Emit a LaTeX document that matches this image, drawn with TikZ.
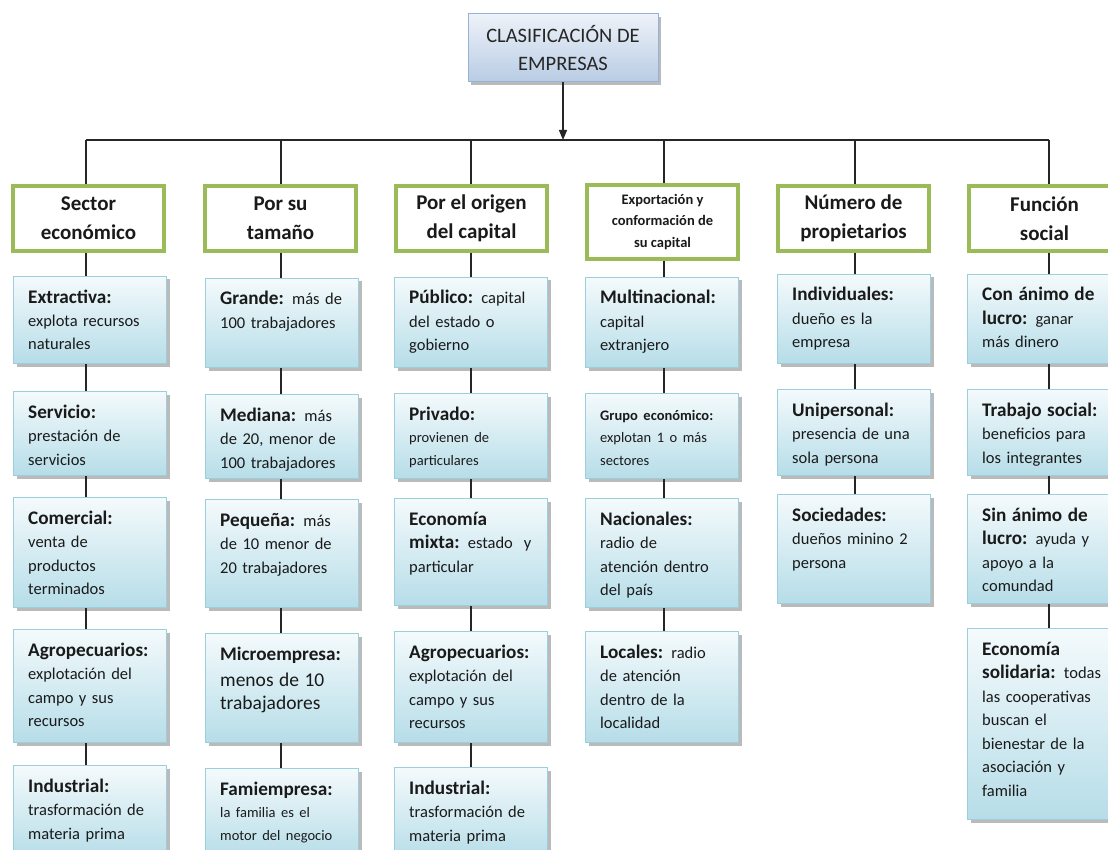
\documentclass[tikz,border=0pt]{standalone}
\usepackage{fontspec}
\setmainfont{Carlito}
\usetikzlibrary{shadows,arrows.meta}
\definecolor{hgreen}{HTML}{9BBB59}
\definecolor{bborder}{HTML}{9CCFDD}
\definecolor{bbot}{HTML}{B6DDE8}
\definecolor{btop}{HTML}{F4FAFC}
\definecolor{tborder}{HTML}{95B3D7}
\definecolor{ttop}{HTML}{EEF2F9}
\definecolor{tbot}{HTML}{B8CCE4}
\definecolor{txt}{HTML}{1A1A1A}
\newcommand{\lb}[1]{{\fontsize{19.2}{23.5}\selectfont\bfseries #1}}
\newcommand{\smtxt}{\fontsize{14.5}{22}\selectfont}
\newcommand{\cb}[5]{%
  \node[cbox, minimum height=#4pt, anchor=north west] (#1) at (#2pt,-#3pt) {};
  \node[ctext, anchor=base west] (#1t) at ([xshift=15pt,yshift=-27pt]#1.north west) {#5};}
\tikzset{
  cbox/.style={draw=bborder, line width=1pt, top color=btop, bottom color=bbot,
    minimum width=153pt, inner sep=0pt,
    drop shadow={shadow xshift=3pt, shadow yshift=-3pt, fill=black!60, opacity=.45}},
  ctext/.style={align=left, text width=150pt, inner sep=0pt, text=txt,
    font=\fontsize{16.5}{23.5}\selectfont},
  hbox/.style={draw=hgreen, line width=4pt, fill=white, minimum width=151pt,
    minimum height=65pt, align=center, inner sep=0pt, text=txt,
    font=\fontsize{21}{29}\selectfont\bfseries,
    drop shadow={shadow xshift=2pt, shadow yshift=-2pt, fill=black!30, opacity=.35}},
  tbox/.style={draw=tborder, line width=1pt, top color=ttop, bottom color=tbot,
    minimum width=190pt, minimum height=68pt, align=center, inner sep=0pt,
    text=black!85, font=\fontsize{20.5}{28}\selectfont,
    drop shadow={shadow xshift=3pt, shadow yshift=-3pt, fill=black!60, opacity=.45}},
  link/.style={draw=black!85, line width=1.3pt},
}
\begin{document}
\begin{tikzpicture}
\useasboundingbox (0pt,0pt) rectangle (1108pt,-850pt);
\clip (0pt,0pt) rectangle (1108pt,-850pt);
\fill[white] (0pt,0pt) rectangle (1108pt,-850pt);

% title
\node[tbox] (title) at (563pt,-48pt) {CLASIFICACIÓN DE\\EMPRESAS};

% column coordinates on the horizontal bar
\coordinate (c1) at (86pt,-140pt);
\coordinate (c2) at (281pt,-140pt);
\coordinate (c3) at (471pt,-140pt);
\coordinate (c4) at (664pt,-140pt);
\coordinate (c5) at (855pt,-140pt);
\coordinate (c6) at (1049pt,-140pt);

% headers
\node[hbox] (h1) at (88.5pt,-218.5pt) {Sector\\económico};
\node[hbox] (h2) at (280.5pt,-218.5pt) {Por su\\tamaño};
\node[hbox] (h3) at (471.5pt,-218.5pt) {Por el origen\\del capital};
\node[hbox, minimum height=74pt, font=\fontsize{14.5}{21.5}\selectfont\bfseries] (h4) at (662.5pt,-222pt) {Exportación y\\conformación de\\su capital};
\node[hbox] (h5) at (853.5pt,-218.5pt) {Número de\\propietarios};
\node[hbox] (h6) at (1044.5pt,-218.5pt) {Función\\social};

% column 1
\cb{a1}{13}{276}{87}{\lb{Extractiva:}\\explota recursos\\naturales}
\cb{a2}{13}{391}{84}{\lb{Servicio:}\\prestación de\\servicios}
\cb{a3}{13}{497}{110}{\lb{Comercial:}\\venta de\\productos\\terminados}
\cb{a4}{13}{629}{113}{\lb{Agropecuarios:}\\explotación del\\campo y sus\\recursos}
\cb{a5}{13}{765}{92}{\lb{Industrial:}\\trasformación de\\materia prima}

% column 2
\cb{b1}{205}{278}{89}{\lb{Grande:} más de\\100 trabajadores}
\cb{b2}{205}{394}{84}{\lb{Mediana:} más\\de 20, menor de\\100 trabajadores}
\cb{b3}{205}{499}{108}{\lb{Pequeña:} más\\de 10 menor de\\20 trabajadores}
\cb{b4}{205}{633}{109}{\lb{Microempresa:}\\{\fontsize{19.5}{26}\selectfont menos de 10\\trabajadores}}
\cb{b5}{205}{768}{90}{\lb{Famiempresa:}\\{\smtxt la familia es el\\motor del negocio}}

% column 3
\cb{d1}{394}{277}{90}{\lb{Público:} capital\\del estado o\\gobierno}
\cb{d2}{394}{393}{85}{\lb{Privado:}\\{\smtxt provienen de\\particulares}}
\cb{d3}{394}{498}{107}{\lb{Economía}\\\lb{mixta:} estado~ y\\particular}
\cb{d4}{394}{631}{111}{\lb{Agropecuarios:}\\explotación del\\campo y sus\\recursos}
\cb{d5}{394}{767}{92}{\lb{Industrial:}\\trasformación de\\materia prima}

% column 4
\cb{e1}{585}{277}{90}{\lb{Multinacional:}\\capital\\extranjero}
\cb{e2}{585}{393}{85}{{\smtxt\bfseries Grupo económico:}\\{\smtxt explotan 1 o más\\sectores}}
\cb{e3}{585}{498}{109}{\lb{Nacionales:}\\radio de\\atención dentro\\del país}
\cb{e4}{585}{631}{111}{\lb{Locales:} radio\\de atención\\dentro de la\\localidad}

% column 5
\cb{f1}{777}{274}{89}{\lb{Individuales:}\\dueño es la\\empresa}
\cb{f2}{777}{389}{86}{\lb{Unipersonal:}\\presencia de una\\sola persona}
\cb{f3}{777}{494}{109}{\lb{Sociedades:}\\dueños minino 2\\persona}

% column 6
\cb{g1}{967}{274}{89}{\lb{Con ánimo de}\\\lb{lucro:} ganar\\más dinero}
\cb{g2}{967}{389}{86}{\lb{Trabajo social:}\\beneficios para\\los integrantes}
\cb{g3}{967}{494}{109}{\lb{Sin ánimo de}\\\lb{lucro:} ayuda y\\apoyo a la\\comundad}
\cb{g4}{967}{628}{191}{\lb{Economía}\\\lb{solidaria:} todas\\las cooperativas\\buscan el\\bienestar de la\\asociación y\\familia}

% connectors
\draw[link] (c1) -- (c6);
\draw[link, -{Triangle[length=10pt,width=8pt]}] (title.south) -- (title.south |- c1);
\foreach \i/\h in {1/h1,2/h2,3/h3,4/h4,5/h5,6/h6}
  \draw[link] (c\i) -- (\h.north -| c\i);
\draw[link] (h1.south -| c1) -- (a1.north -| c1);
\draw[link] (h2.south -| c2) -- (b1.north -| c2);
\draw[link] (h3.south -| c3) -- (d1.north -| c3);
\draw[link] (h4.south -| c4) -- (e1.north -| c4);
\draw[link] (h5.south -| c5) -- (f1.north -| c5);
\draw[link] (h6.south -| c6) -- (g1.north -| c6);
\foreach \p/\q in {a1/a2,a2/a3,a3/a4,a4/a5}
  \draw[link] (\p.south -| c1) -- (\q.north -| c1);
\foreach \p/\q in {b1/b2,b2/b3,b3/b4,b4/b5}
  \draw[link] (\p.south -| c2) -- (\q.north -| c2);
\foreach \p/\q in {d1/d2,d2/d3,d3/d4,d4/d5}
  \draw[link] (\p.south -| c3) -- (\q.north -| c3);
\foreach \p/\q in {e1/e2,e2/e3,e3/e4}
  \draw[link] (\p.south -| c4) -- (\q.north -| c4);
\foreach \p/\q in {f1/f2,f2/f3}
  \draw[link] (\p.south -| c5) -- (\q.north -| c5);
\foreach \p/\q in {g1/g2,g2/g3,g3/g4}
  \draw[link] (\p.south -| c6) -- (\q.north -| c6);
\end{tikzpicture}
\end{document}
